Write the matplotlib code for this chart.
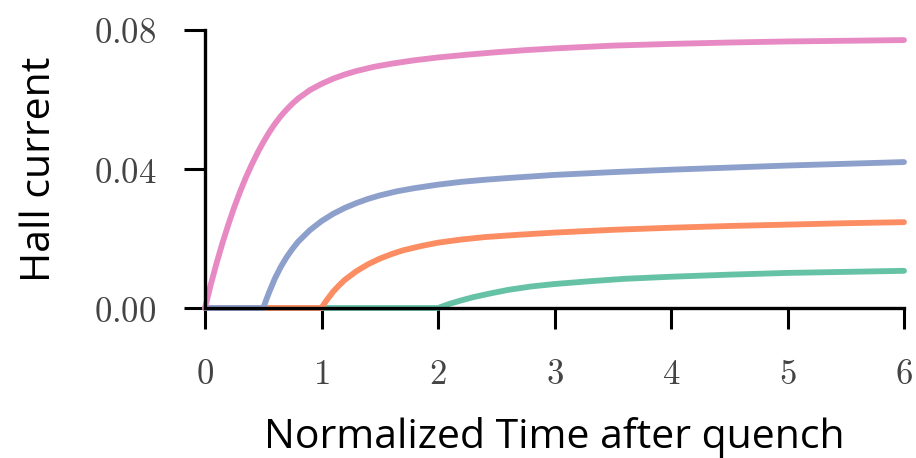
import matplotlib
matplotlib.use("Agg")
import matplotlib.pyplot as plt

plt.rcParams['mathtext.fontset'] = 'cm'

# Data
t_pink = [0, 0.05, 0.1, 0.15, 0.2, 0.25, 0.3, 0.35, 0.4, 0.45, 0.5, 0.55, 0.6, 0.65, 0.7, 0.75, 0.8, 0.9, 1.0, 1.1, 1.2, 1.3, 1.45, 1.6, 1.8, 2.0, 2.25, 2.5, 2.75, 3.0, 3.5, 4.0, 4.5, 5.0, 5.5, 6.0]
v_pink = [0, 0.0068, 0.0130, 0.0187, 0.0240, 0.0289, 0.0334, 0.0375, 0.0412, 0.0446, 0.0477, 0.0505, 0.0530, 0.0552, 0.0571, 0.0588, 0.0603, 0.0627, 0.0645, 0.0660, 0.0672, 0.0682, 0.0694, 0.0703, 0.0713, 0.0721, 0.0729, 0.0736, 0.0742, 0.0747, 0.0755, 0.0760, 0.0764, 0.0767, 0.0769, 0.0771]

t_blue = [0, 0.5, 0.525, 0.55, 0.6, 0.65, 0.7, 0.75, 0.8, 0.9, 1.0, 1.1, 1.2, 1.3, 1.4, 1.5, 1.65, 1.8, 2.0, 2.2, 2.4, 2.6, 3.0, 3.5, 4.0, 4.5, 5.0, 5.5, 6.0]
v_blue = [0, 0, 0.0023, 0.0045, 0.0085, 0.0118, 0.0146, 0.0170, 0.0191, 0.0224, 0.0250, 0.0271, 0.0288, 0.0302, 0.0314, 0.0324, 0.0336, 0.0345, 0.0355, 0.0363, 0.0369, 0.0374, 0.0383, 0.0391, 0.0398, 0.0404, 0.0410, 0.0415, 0.0420]

t_orange = [0, 1.0, 1.025, 1.05, 1.1, 1.15, 1.2, 1.3, 1.4, 1.5, 1.6, 1.7, 1.85, 2.0, 2.2, 2.4, 2.7, 3.0, 3.5, 4.0, 4.5, 5.0, 5.5, 6.0]
v_orange = [0, 0, 0.0013, 0.0025, 0.0047, 0.0065, 0.0081, 0.0106, 0.0126, 0.0142, 0.0155, 0.0166, 0.0178, 0.0188, 0.0197, 0.0204, 0.0211, 0.0217, 0.0225, 0.0231, 0.0236, 0.0240, 0.0244, 0.0247]

t_green = [0, 2.0, 2.05, 2.1, 2.2, 2.3, 2.45, 2.6, 2.8, 3.0, 3.3, 3.6, 4.0, 4.5, 5.0, 5.5, 6.0]
v_green = [0, 0, 0.0006, 0.0012, 0.0022, 0.0031, 0.0042, 0.0052, 0.0062, 0.0069, 0.0077, 0.0084, 0.0090, 0.0096, 0.0101, 0.0104, 0.0107]

x_ticks = [0, 1, 2, 3, 4, 5, 6]
y_ticks = [0.0, 0.04, 0.08]
y_tick_labels = ["0.00", "0.04", "0.08"]

colors = {"green": "#66c2a5", "orange": "#fc8d62", "blue": "#8da0cb", "pink": "#e78ac3"}

fig = plt.figure(figsize=(9.16, 4.58), dpi=100)
ax = fig.add_axes([0.2238, 0.3275, 0.7631, 0.607])

for t, v, c in [(t_green, v_green, colors["green"]),
                (t_orange, v_orange, colors["orange"]),
                (t_blue, v_blue, colors["blue"]),
                (t_pink, v_pink, colors["pink"])]:
    ax.plot(t, v, color=c, lw=4.2, solid_capstyle='round', solid_joinstyle='round',
            clip_on=False, zorder=2)

ax.set_xlim(0, 6)
ax.set_ylim(0, 0.08)
ax.set_xticks(x_ticks)
ax.set_xticklabels([f"${x}$" for x in x_ticks])
ax.set_yticks(y_ticks)
ax.set_yticklabels([f"${s}$" for s in y_tick_labels])

for s in ['top', 'right']:
    ax.spines[s].set_visible(False)
for s in ['left', 'bottom']:
    ax.spines[s].set_linewidth(2.4)
    ax.spines[s].set_zorder(3)

ax.tick_params(axis='both', direction='out', length=15, width=2.2, colors='black',
               labelcolor='#444444', labelsize=25)
ax.tick_params(axis='x', pad=20)
ax.tick_params(axis='y', pad=20)

ax.set_xlabel("Normalized Time after quench", fontsize=29.5, family='Open Sans', labelpad=19)
ax.set_ylabel("Hall current", fontsize=29.5, family='Open Sans', labelpad=24)

fig.savefig("out.png", dpi=100)
